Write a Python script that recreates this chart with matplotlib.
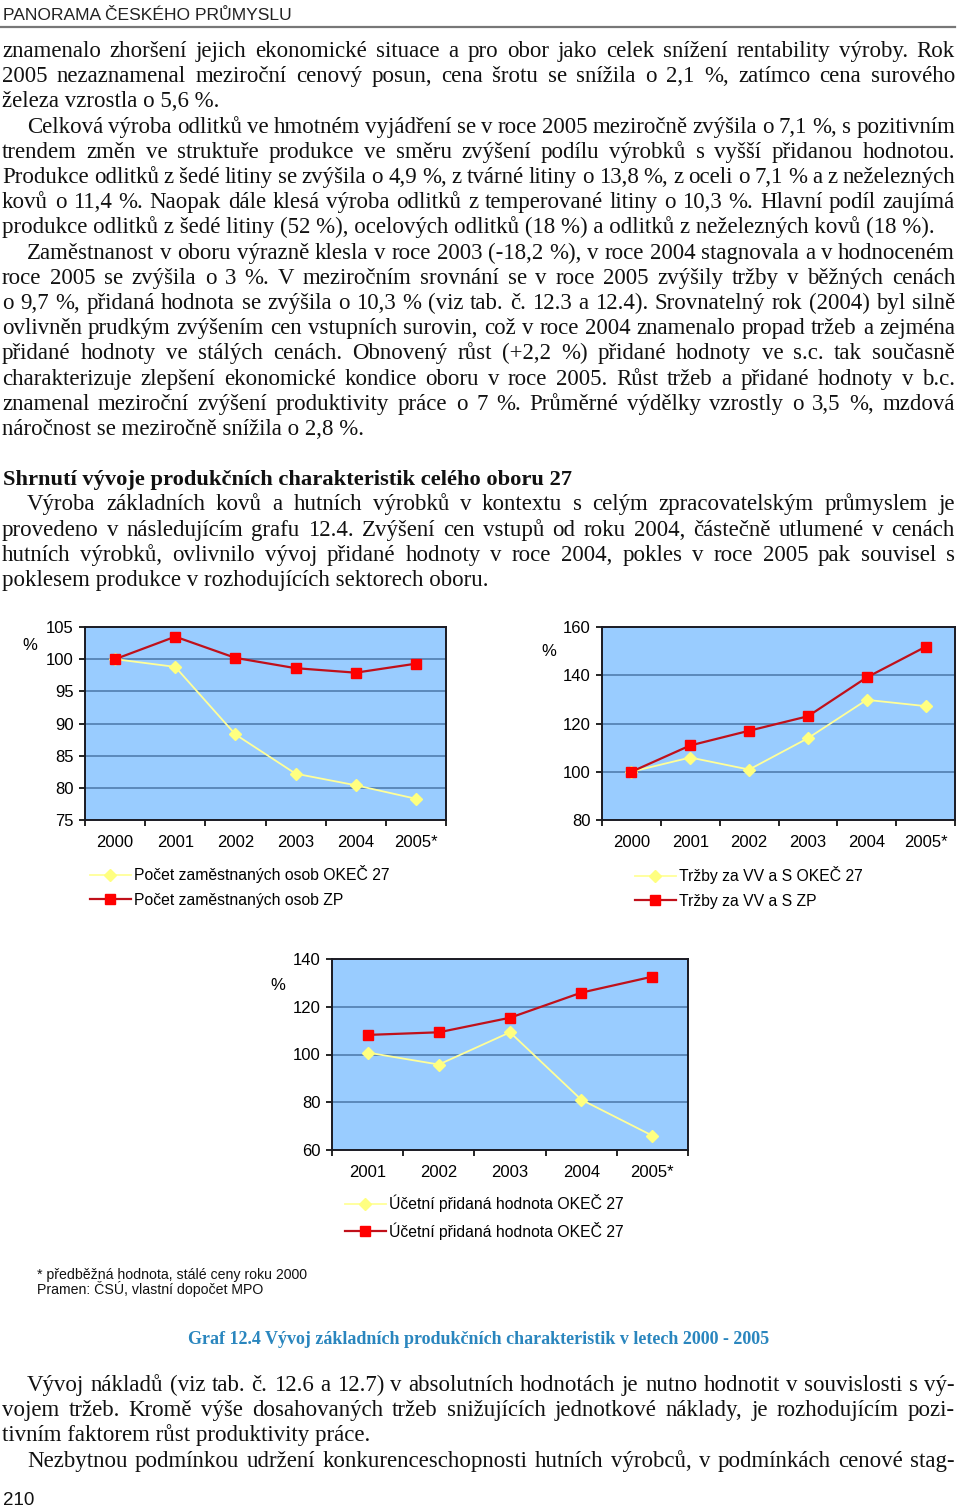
import matplotlib
matplotlib.use('Agg')
import matplotlib.pyplot as plt
from matplotlib.lines import Line2D

W, H = 960, 1509

# ---------------- data ----------------
years_a = ['2000', '2001', '2002', '2003', '2004', '2005*']
years_b = ['2001', '2002', '2003', '2004', '2005*']

emp_okec = [100, 98.8, 88.3, 82.2, 80.4, 78.3]
emp_zp = [100, 103.5, 100.2, 98.6, 97.9, 99.3]

sales_okec = [100, 105.9, 100.9, 113.9, 129.8, 127.2]
sales_zp = [100, 110.9, 117.0, 123.0, 139.1, 151.8]

va_okec = [100.8, 95.8, 109.3, 81.1, 66.0]
va_zp = [108.2, 109.3, 115.4, 125.9, 132.6]

# ---------------- page text ----------------
# (text, justified, indented)
block_top = [
    ('znamenalo zhoršení jejich ekonomické situace a pro obor jako celek snížení rentability výroby. Rok', True, False),
    ('2005 nezaznamenal meziroční cenový posun, cena šrotu se snížila o 2,1 %, zatímco cena surového', True, False),
    ('železa vzrostla o 5,6 %.', False, False),
    ('Celková výroba odlitků ve hmotném vyjádření se v roce 2005 meziročně zvýšila o 7,1 %, s pozitivním', True, True),
    ('trendem změn ve struktuře produkce ve směru zvýšení podílu výrobků s vyšší přidanou hodnotou.', True, False),
    ('Produkce odlitků z šedé litiny se zvýšila o 4,9 %, z tvárné litiny o 13,8 %, z oceli o 7,1 % a z neželezných', True, False),
    ('kovů o 11,4 %. Naopak dále klesá výroba odlitků z temperované litiny o 10,3 %. Hlavní podíl zaujímá', True, False),
    ('produkce odlitků z šedé litiny (52 %), ocelových odlitků (18 %) a odlitků z neželezných kovů (18 %).', False, False),
    ('Zaměstnanost v oboru výrazně klesla v roce 2003 (-18,2 %), v roce 2004 stagnovala a v hodnoceném', True, True),
    ('roce 2005 se zvýšila o 3 %. V meziročním srovnání se v roce 2005 zvýšily tržby v běžných cenách', True, False),
    ('o 9,7 %, přidaná hodnota se zvýšila o 10,3 % (viz tab. č. 12.3 a 12.4). Srovnatelný rok (2004) byl silně', True, False),
    ('ovlivněn prudkým zvýšením cen vstupních surovin, což v roce 2004 znamenalo propad tržeb a zejména', True, False),
    ('přidané hodnoty ve stálých cenách. Obnovený růst (+2,2 %) přidané hodnoty ve s.c. tak současně', True, False),
    ('charakterizuje zlepšení ekonomické kondice oboru v roce 2005. Růst tržeb a přidané hodnoty v b.c.', True, False),
    ('znamenal meziroční zvýšení produktivity práce o 7 %. Průměrné výdělky vzrostly o 3,5 %, mzdová', True, False),
    ('náročnost se meziročně snížila o 2,8 %.', False, False),
]
heading = 'Shrnutí vývoje produkčních charakteristik celého oboru 27'
block_mid = [
    ('Výroba základních kovů a hutních výrobků v kontextu s celým zpracovatelským průmyslem je', True, True),
    ('provedeno v následujícím grafu 12.4. Zvýšení cen vstupů od roku 2004, částečně utlumené v cenách', True, False),
    ('hutních výrobků, ovlivnilo vývoj přidané hodnoty v roce 2004, pokles v roce 2005 pak souvisel s', True, False),
    ('poklesem produkce v rozhodujících sektorech oboru.', False, False),
]
block_bot = [
    ('Vývoj nákladů (viz tab. č. 12.6 a 12.7) v absolutních hodnotách je nutno hodnotit v souvislosti s vý-', True, True),
    ('vojem tržeb. Kromě výše dosahovaných tržeb snižujících jednotkové náklady, je rozhodujícím pozi-', True, False),
    ('tivním faktorem růst produktivity práce.', False, False),
    ('Nezbytnou podmínkou udržení konkurenceschopnosti hutních výrobců, v podmínkách cenové stag-', True, True),
]

fig = plt.figure(figsize=(W / 100, H / 100), dpi=100)
renderer = fig.canvas.get_renderer()


def fx(x):
    return x / W


def fy(y):
    return 1 - y / H


serif = dict(family=['Liberation Serif', 'DejaVu Serif'], fontsize=16.5, color='#111111')


def put_line(text, y, x0, justify, right=955, **kw):
    if not justify:
        fig.text(fx(x0), fy(y), text, va='baseline', ha='left', **kw)
        return
    words = text.split(' ')
    objs = [fig.text(0, fy(y), w, va='baseline', ha='left', **kw) for w in words]
    widths = [o.get_window_extent(renderer).width for o in objs]
    gap = (right - x0 - sum(widths)) / (len(words) - 1)
    x = x0
    for o, w in zip(objs, widths):
        o.set_x(fx(x))
        x += w + gap


def put_block(lines, y0, step=25.2):
    for i, (t, just, ind) in enumerate(lines):
        put_line(t, y0 + i * step, 27 if ind else 2, just, **serif)


# header
fig.text(fx(3), fy(20), 'PANORAMA ČESKÉHO PRŮMYSLU', family=['Liberation Sans', 'DejaVu Sans'],
         fontsize=12.6, va='baseline', color='#222222')
fig.add_artist(Line2D([0, fx(955)], [fy(27), fy(27)], color='#777777', lw=1.6))

put_block(block_top, 57)
fig.text(fx(3), fy(485), heading, va='baseline', family=['Liberation Serif', 'DejaVu Serif'],
         fontsize=16.2, fontweight='bold', color='#111111')
put_block(block_mid, 510.5)
put_block(block_bot, 1391)
fig.text(fx(3), fy(1505), '210', family=['Liberation Sans', 'DejaVu Sans'], fontsize=13.5,
         va='baseline', color='#111111')

# ---------------- charts ----------------
BG = '#99CCFF'
GRID = '#4A76A8'
RED_LINE = '#C0101A'
RED = '#FF0000'
YEL_LINE = '#FFFF99'
YEL = '#FFFF80'
sans = ['Liberation Sans', 'DejaVu Sans']
TICK_FS = 12


def make_chart(box, cats, okec, zp, ylim, ystep, labels, pct_xy, leg_xy):
    l, t, r, b = box
    ax = fig.add_axes([fx(l), fy(b), (r - l) / W, (b - t) / H])
    ax.set_facecolor(BG)
    n = len(cats)
    xs = list(range(n))
    ax.plot(xs, okec, color=YEL_LINE, lw=1.3, marker='D', ms=6.2, mfc=YEL, mec=YEL,
            label=labels[0], zorder=3)
    ax.plot(xs, zp, color=RED_LINE, lw=1.6, marker='s', ms=7.8, mfc=RED, mec=RED,
            label=labels[1], zorder=4)
    ax.set_xlim(-0.5, n - 0.5)
    ax.set_ylim(*ylim)
    yt = list(range(ylim[0], ylim[1] + 1, ystep))
    ax.set_yticks(yt)
    for v in yt[1:-1]:
        ax.axhline(v, color=GRID, lw=1.1, zorder=1)
    ax.set_xticks(xs)
    ax.set_xticklabels(cats)
    ax.set_xticks([i - 0.5 for i in range(n + 1)], minor=True)
    ax.tick_params(axis='x', which='major', length=0, pad=10.5, labelsize=TICK_FS)
    ax.tick_params(axis='x', which='minor', length=4, width=1.2, direction='out')
    ax.tick_params(axis='y', length=4, width=1.2, direction='out', pad=4, labelsize=TICK_FS)
    for lab in ax.get_xticklabels() + ax.get_yticklabels():
        lab.set_family(sans)
    for s in ax.spines.values():
        s.set_color('#1a1a22')
        s.set_linewidth(1.4)
    fig.text(fx(pct_xy[0]), fy(pct_xy[1]), '%', family=sans, fontsize=TICK_FS,
             ha='center', va='center')
    ax.legend(loc='upper left', bbox_to_anchor=(fx(leg_xy[0]), fy(leg_xy[1])),
              bbox_transform=fig.transFigure, frameon=False, prop={'family': sans, 'size': 11.3},
              handlelength=2.6, handletextpad=0.2, labelspacing=0.62, borderaxespad=0,
              borderpad=0)
    return ax


make_chart((85, 627, 446, 820), years_a, emp_okec, emp_zp, (75, 105), 5,
           ['Počet zaměstnaných osob OKEČ 27', 'Počet zaměstnaných osob ZP'], (30, 645), (90, 865))
make_chart((602, 627, 955, 820), years_a, sales_okec, sales_zp, (80, 160), 20,
           ['Tržby za VV a S OKEČ 27', 'Tržby za VV a S ZP'], (549, 652), (635, 866))
make_chart((332, 959, 688, 1150), years_b, va_okec, va_zp, (60, 140), 20,
           ['Účetní přidaná hodnota OKEČ 27', 'Účetní přidaná hodnota OKEČ 27'], (278, 985), (345, 1194))

# footnote and caption
foot = dict(family=['Liberation Sans Narrow', 'Liberation Sans', 'DejaVu Sans'], fontsize=10.2, color='#111111')
fig.text(fx(37), fy(1279), '* předběžná hodnota, stálé ceny roku 2000', va='baseline', **foot)
fig.text(fx(37), fy(1294), 'Pramen: ČSÚ, vlastní dopočet MPO', va='baseline', **foot)
fig.text(fx(479), fy(1344), 'Graf 12.4 Vývoj základních produkčních charakteristik v letech 2000 - 2005',
         ha='center', va='baseline', family=['Liberation Serif', 'DejaVu Serif'], fontsize=13.0,
         fontweight='bold', color='#2A86BE')

fig.savefig('out.png', dpi=100, facecolor='white')
